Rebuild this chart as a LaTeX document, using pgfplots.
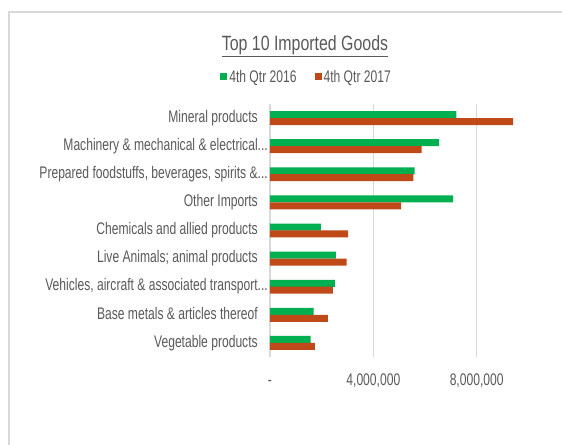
\documentclass[border=0pt]{standalone}
\usepackage{pgfplots}
\pgfplotsset{compat=1.18}
\usepackage{fontspec}
\setmainfont{Liberation Sans}[FakeStretch=0.72]
\newfontfamily\titlefont{Liberation Sans}[FakeStretch=0.77]
\definecolor{gridgray}{HTML}{D9D9D9}
\definecolor{txtgray}{HTML}{595959}
\definecolor{q16}{HTML}{00B050}
\definecolor{q17}{HTML}{C0491A}

\begin{document}
\begin{tikzpicture}[x=0.75pt,y=0.75pt]
\path[use as bounding box] (0,0) rectangle (562,444);
\begin{scope}
\clip (0,0) rectangle (562,444);
\draw[gridgray, line width=1pt] (9,-50) -- (9,432) -- (650,432);
\end{scope}
\node[font=\titlefont\fontsize{15.5}{17}\selectfont, text=txtgray] at (305,398) {\underline{Top 10 Imported Goods}};
\begin{axis}[
  at={(202.5pt,65.25pt)}, anchor=south west, scale only axis,
  width=232.5pt, height=189.75pt,
  xbar, bar width=5.25pt,
  xmin=0, xmax=12000000, ymin=-0.5, ymax=8.5,
  clip=false,
  axis line style={draw=none},
  xmajorgrids, major grid style={gridgray, line width=0.9pt},
  major tick length=0pt,
  xtick={0,4000000,8000000,12000000},
  xticklabels={{-\hspace{4pt}},{4,000,000},{8,000,000},{}},
  scaled x ticks=false,
  ytick={0,...,8},
  yticklabels={
    Vegetable products,
    Base metals \& articles thereof,
    {Vehicles, aircraft \& associated transport\rlap{...}},
    Live Animals; animal products,
    Chemicals and allied products,
    Other Imports,
    {Prepared foodstuffs, beverages, spirits \&\rlap{...}},
    Machinery \& mechanical \& electrical\rlap{...},
    Mineral products},
  ticklabel style={font=\fontsize{12.6}{14}\selectfont, text=txtgray, inner sep=0pt,
    text height=9pt, text depth=2.6pt},
  yticklabel style={anchor=east, xshift=-9pt},
  xticklabel style={anchor=north, yshift=-12pt},
  legend columns=2,
  legend style={at={(0.118,1.107)}, anchor=center, draw=none, fill=none,
    font=\fontsize{12.6}{14}\selectfont, text=txtgray,
    /tikz/every even column/.append style={column sep=12pt},
    nodes={inner sep=1.5pt}},
  legend image code/.code={\fill[#1] (0pt,-2.6pt) rectangle (5.25pt,2.6pt);},
]
\addplot[draw=none, fill=q16, bar shift=2.6pt] coordinates {
  (1570000,0) (1690000,1) (2510000,2) (2550000,3) (1970000,4)
  (7090000,5) (5600000,6) (6550000,7) (7210000,8)};
\addlegendentry{4th Qtr 2016}
\addplot[draw=none, fill=q17, bar shift=-2.6pt] coordinates {
  (1740000,0) (2240000,1) (2430000,2) (2970000,3) (3020000,4)
  (5080000,5) (5550000,6) (5870000,7) (9410000,8)};
\addlegendentry{4th Qtr 2017}
\end{axis}
\end{tikzpicture}
\end{document}
